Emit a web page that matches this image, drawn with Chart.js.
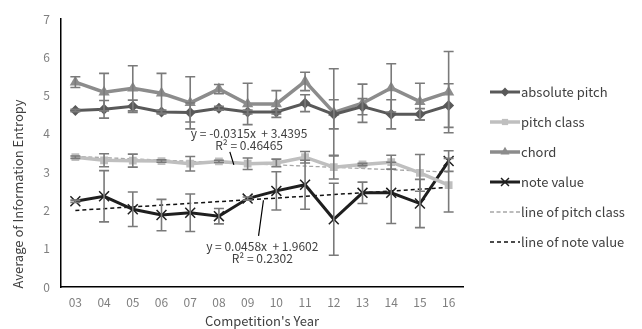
<!DOCTYPE html>
<html><head><meta charset="utf-8">
<script src="https://cdn.jsdelivr.net/npm/chart.js@4"></script>
<style>html,body{margin:0;padding:0;background:#fff}#wrap{width:642px;height:329px;position:relative}</style>
</head><body><div id="wrap"><canvas id="c" width="642" height="329"></canvas></div>
<script>
const years = ['03','04','05','06','07','08','09','10','11','12','13','14','15','16'];
const absolutePitch    = [4.61,4.64,4.72,4.57,4.56,4.67,4.57,4.57,4.80,4.51,4.71,4.51,4.51,4.74];
const absolutePitchErr = [0.03,0.23,0.16,0.05,0.25,0.05,0.05,0.05,0.22,0.38,0.21,0.38,0.15,0.57];
const pitchClass       = [3.39,3.31,3.30,3.29,3.22,3.28,3.22,3.24,3.39,3.13,3.20,3.26,2.98,2.66];
const pitchClassErr    = [0.03,0.17,0.17,0.03,0.19,0.03,0.15,0.10,0.15,0.31,0.03,0.18,0.48,0.70];
const chord            = [5.35,5.09,5.19,5.06,4.81,5.17,4.78,4.78,5.37,4.56,4.80,5.20,4.84,5.09];
const chordErr         = [0.14,0.49,0.59,0.52,0.68,0.12,0.54,0.35,0.24,1.14,0.50,0.63,0.48,1.06];
const noteValue        = [2.24,2.37,2.03,1.88,1.94,1.85,2.31,2.51,2.67,1.77,2.46,2.46,2.18,3.29];
const noteValueErr     = [0.03,0.67,0.45,0.41,0.49,0.20,0.04,0.50,0.64,0.94,0.28,0.80,0.63,0.27];
// trend line end values (first and last year)
const pitchClassTrendEnds = [3.41, 3.00];
const noteValueTrendEnds  = [2.00, 2.60];
const yTicks = [0,1,2,3,4,5,6,7];
const eq1 = ['y = -0.0315x  + 3.4395', 'R² = 0.46465'];
const eq2 = ['y = 0.0458x  + 1.9602', 'R² = 0.2302'];

const FONT = '"Noto Sans CJK JP","Noto Sans",sans-serif';

function trendSeries(ends){
  const a = years.map(()=>null);
  a[0] = ends[0]; a[a.length-1] = ends[1];
  return a;
}

const C_ABS='#595959', C_PC='#bfbfbf', C_CH='#8c8c8c', C_NV='#1f1f1f', C_ERR='#7a7a7a';

const datasets = [
  {label:'absolute pitch', data:absolutePitch, err:absolutePitchErr, borderColor:C_ABS, backgroundColor:C_ABS,
   borderWidth:3, pointStyle:'rectRot', pointRadius:5.5, pointBorderWidth:0, tension:0},
  {label:'pitch class', data:pitchClass, err:pitchClassErr, borderColor:C_PC, backgroundColor:C_PC,
   borderWidth:3.5, pointStyle:'rect', pointRadius:5.5, pointBorderWidth:0, tension:0},
  {label:'chord', data:chord, err:chordErr, borderColor:C_CH, backgroundColor:C_CH,
   borderWidth:3.5, pointStyle:'triangle', pointRadius:6.5, pointBorderWidth:0, tension:0},
  {label:'note value', data:noteValue, err:noteValueErr, borderColor:C_NV, backgroundColor:C_NV,
   borderWidth:3, pointStyle:'crossRot', pointRadius:7, pointBorderWidth:1.5, pointBorderColor:C_NV, tension:0},
  {label:'line of pitch class', data:trendSeries(pitchClassTrendEnds), borderColor:'#a6a6a6', borderWidth:1.3,
   borderDash:[4,2.5], pointRadius:0, spanGaps:true},
  {label:'line of note value', data:trendSeries(noteValueTrendEnds), borderColor:'#111', borderWidth:1.5,
   borderDash:[4,3], pointRadius:0, spanGaps:true}
];

const errorBarPlugin = {
  id:'errbars',
  afterDatasetsDraw(chart){
    const ctx = chart.ctx, ys = chart.scales.y;
    chart.data.datasets.forEach((ds,i)=>{
      if(!ds.err) return;
      const meta = chart.getDatasetMeta(i);
      ctx.save();
      ctx.strokeStyle = C_ERR; ctx.lineWidth = 1.6; ctx.setLineDash([]);
      ds.data.forEach((v,j)=>{
        const x = meta.data[j].x;
        const yt = ys.getPixelForValue(v+ds.err[j]);
        const yb = ys.getPixelForValue(v-ds.err[j]);
        ctx.beginPath();
        ctx.moveTo(x,yt); ctx.lineTo(x,yb);
        ctx.moveTo(x-5,yt); ctx.lineTo(x+5,yt);
        ctx.moveTo(x-5,yb); ctx.lineTo(x+5,yb);
        ctx.stroke();
      });
      ctx.restore();
    });
  }
};

const decorPlugin = {
  id:'decor',
  afterDraw(chart){
    const ctx = chart.ctx, xs = chart.scales.x, ys = chart.scales.y;
    ctx.save();
    // y axis title
    ctx.fillStyle = '#404040';
    ctx.font = '13px '+FONT;
    ctx.textAlign='center'; ctx.textBaseline='middle';
    ctx.save();
    ctx.translate(18, 194);
    ctx.rotate(-Math.PI/2);
    ctx.fillText('Average of Information Entropy', 0, 0);
    ctx.restore();

    // equations
    ctx.font = '12px '+FONT;
    ctx.fillStyle = '#404040';
    ctx.fillText(eq1[0], xs.getPixelForValue(6.05), ys.getPixelForValue(4.00));
    ctx.fillText(eq1[1], xs.getPixelForValue(6.05), ys.getPixelForValue(3.69));
    ctx.fillText(eq2[0], xs.getPixelForValue(6.51), ys.getPixelForValue(1.055));
    ctx.fillText(eq2[1], xs.getPixelForValue(6.51), ys.getPixelForValue(0.735));
    ctx.strokeStyle='#000'; ctx.lineWidth=1.2;
    ctx.beginPath();
    ctx.moveTo(xs.getPixelForValue(5.38), ys.getPixelForValue(3.53));
    ctx.lineTo(xs.getPixelForValue(5.52), ys.getPixelForValue(3.19));
    ctx.moveTo(xs.getPixelForValue(6.38), ys.getPixelForValue(1.335));
    ctx.lineTo(xs.getPixelForValue(6.55), ys.getPixelForValue(2.265));
    ctx.stroke();

    // legend
    const lx0 = 490, lx1 = 520, ly0 = 92, dy = 30;
    ctx.textAlign='left';
    chart.data.datasets.forEach((ds,i)=>{
      const y = ly0 + i*dy;
      ctx.save();
      ctx.strokeStyle = ds.borderColor;
      ctx.lineWidth = ds.borderWidth;
      ctx.setLineDash(ds.borderDash || []);
      ctx.beginPath(); ctx.moveTo(lx0,y); ctx.lineTo(lx1,y); ctx.stroke();
      ctx.setLineDash([]);
      if(ds.pointRadius>0){
        const r = ds.pointRadius*0.8;
        ctx.fillStyle = ds.backgroundColor; ctx.strokeStyle = ds.pointBorderColor||ds.borderColor;
        ctx.lineWidth = ds.pointBorderWidth||1;
        Chart.helpers.drawPoint(ctx, {pointStyle:ds.pointStyle, radius:r, rotation:0, borderWidth:ds.pointBorderWidth||0}, (lx0+lx1)/2, y);
      }
      ctx.restore();
      ctx.fillStyle='#404040';
      ctx.font = '13px '+FONT;
      ctx.textBaseline='middle';
      ctx.fillText(ds.label, lx1+1, y+0.5);
    });
    ctx.restore();
  }
};

new Chart(document.getElementById('c'), {
  type:'line',
  data:{labels:years, datasets},
  plugins:[errorBarPlugin, decorPlugin],
  options:{
    responsive:false, animation:false, devicePixelRatio:1,
    layout:{padding:{top:19, right:179, left:0, bottom:0}},
    plugins:{legend:{display:false}, tooltip:{enabled:false}},
    scales:{
      x:{
        offset:true,
        grid:{display:false, drawTicks:false, offset:true},
        border:{display:true, color:'#000', width:1.5},
        ticks:{color:'#7f7f7f', font:{family:FONT, size:12}, padding:8, maxRotation:0, autoSkip:false},
        title:{display:true, text:"Competition's Year", color:'#404040', font:{family:FONT, size:13}, padding:{top:0,bottom:0}},
        afterFit(s){ s.height = 42; }
      },
      y:{
        min:0, max:7,
        afterBuildTicks(s){ s.ticks = yTicks.map(v=>({value:v})); },
        grid:{display:false, drawTicks:false},
        border:{display:true, color:'#000', width:1.5},
        ticks:{color:'#7f7f7f', font:{family:FONT, size:12}, padding:11},
        afterFit(s){ s.width = 61; }
      }
    }
  }
});
</script>
</body></html>
